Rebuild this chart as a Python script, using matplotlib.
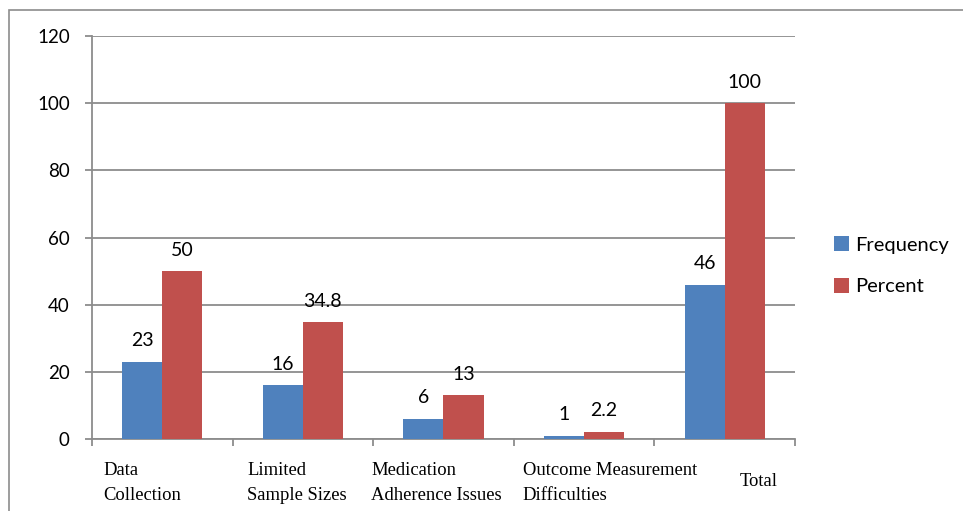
import matplotlib.pyplot as plt
from matplotlib.patches import Rectangle
import numpy as np

categories = ["Data\nCollection", "Limited\nSample Sizes", "Medication\nAdherence Issues",
              "Outcome Measurement\nDifficulties", "Total"]
frequency = [23, 16, 6, 1, 46]
percent = [50, 34.8, 13, 2.2, 100]
freq_labels = ["23", "16", "6", "1", "46"]
pct_labels = ["50", "34.8", "13", "2.2", "100"]

# left edge of each category label, as a fraction of the category slot
label_offsets = [0.08, 0.105, -0.015, 0.065, 0.61]

blue = "#4F81BD"
red = "#C0504D"
grid_col = "#8C8C8C"
sans = "Lato"

fig = plt.figure(figsize=(9.63, 5.11), dpi=100)
ax = fig.add_axes([0.0955, 0.1409, 0.73, 0.7886])

# chart border
fig.patches.append(Rectangle((9 / 963, -0.05), 1.1, 1 - 10 / 511 + 0.05,
                             transform=fig.transFigure, fill=False,
                             edgecolor="#8C8C8C", linewidth=1.2))

x = np.arange(len(categories))
w = 0.285
b1 = ax.bar(x - w / 2, frequency, w, color=blue, label="Frequency", zorder=3)
b2 = ax.bar(x + w / 2, percent, w, color=red, label="Percent", zorder=3)

for bars, labels in ((b1, freq_labels), (b2, pct_labels)):
    for bar, lab in zip(bars, labels):
        ax.annotate(lab, (bar.get_x() + bar.get_width() / 2, bar.get_height()),
                    xytext=(0, 9), textcoords="offset points", ha="center",
                    va="bottom", fontsize=14, family=sans)

ax.set_xlim(-0.5, 4.5)
ax.set_ylim(0, 120)
ax.set_yticks(range(0, 121, 20))
ax.yaxis.grid(True, color=grid_col, linewidth=1.3, zorder=0)
ax.set_axisbelow(True)

ax.set_xticks(np.arange(-0.5, 4.6, 1))
ax.set_xticklabels([])
ax.tick_params(axis="x", length=5, width=1.3, color=grid_col, direction="out")
ax.tick_params(axis="y", length=5, width=1.3, color=grid_col, pad=11,
               labelsize=13.5)
for t in ax.get_yticklabels():
    t.set_family(sans)

for s in ("top", "right"):
    ax.spines[s].set_visible(False)
for s in ("left", "bottom"):
    ax.spines[s].set_color(grid_col)
    ax.spines[s].set_linewidth(1.3)

for i, (cat, off) in enumerate(zip(categories, label_offsets)):
    ax.text(i - 0.5 + off, -0.058 if "\n" in cat else -0.085, cat,
            transform=ax.get_xaxis_transform(), ha="left", va="top",
            fontsize=13.4, family="Liberation Serif", linespacing=1.55)

fig.legend(handles=[b1, b2], loc="center left", bbox_to_anchor=(0.847, 0.48),
           frameon=False, prop={"family": sans, "size": 14.5}, handlelength=0.75,
           handleheight=0.75, handletextpad=0.3, labelspacing=1.2)

fig.savefig("out.png", dpi=100)
